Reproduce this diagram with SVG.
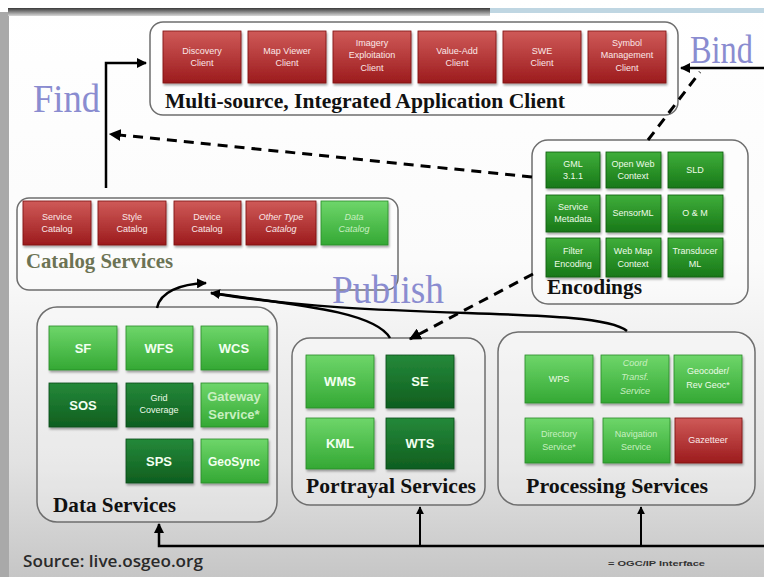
<svg xmlns="http://www.w3.org/2000/svg" width="764" height="577" viewBox="0 0 764 577">
<defs>
<linearGradient id="bg" x1="0" y1="0" x2="0" y2="1">
<stop offset="0" stop-color="#ffffff"/><stop offset="0.45" stop-color="#fbfbfb"/><stop offset="0.8" stop-color="#e2e2e2"/><stop offset="1" stop-color="#c6c6c6"/>
</linearGradient>
<linearGradient id="topbar" x1="0" y1="0" x2="0" y2="1">
<stop offset="0" stop-color="#3a3a3a"/><stop offset="1" stop-color="#d8d8d8"/>
</linearGradient>
<linearGradient id="red" x1="0" y1="0" x2="0" y2="1">
<stop offset="0" stop-color="#cf5a58"/><stop offset="1" stop-color="#9c1b1d"/>
</linearGradient>
<linearGradient id="lg" x1="0" y1="0" x2="0" y2="1">
<stop offset="0" stop-color="#6ed66a"/><stop offset="1" stop-color="#34a834"/>
</linearGradient>
<linearGradient id="mg" x1="0" y1="0" x2="0" y2="1">
<stop offset="0" stop-color="#3fae3a"/><stop offset="1" stop-color="#187818"/>
</linearGradient>
<linearGradient id="dg" x1="0" y1="0" x2="0" y2="1">
<stop offset="0" stop-color="#25893a"/><stop offset="1" stop-color="#0f5e1f"/>
</linearGradient>
<filter id="sh" x="-10%" y="-10%" width="130%" height="140%">
<feDropShadow dx="1" dy="2" stdDeviation="1.2" flood-color="#000" flood-opacity="0.35"/>
</filter>
<marker id="ah" viewBox="0 0 10 10" refX="9" refY="5" markerWidth="4" markerHeight="4" orient="auto-start-reverse">
<path d="M0,0 L10,5 L0,10 z" fill="#000"/>
</marker>
</defs>
<style>
.frame{fill:#ffffff;fill-opacity:0.25;stroke:#6e6e6e;stroke-width:1.5}
.r{fill:url(#red);stroke:#7a1010;stroke-width:0.8;filter:url(#sh)}
.l{fill:url(#lg);stroke:#2a8a2a;stroke-width:0.8;filter:url(#sh)}
.m{fill:url(#mg);stroke:#0f5a0f;stroke-width:0.8;filter:url(#sh)}
.d{fill:url(#dg);stroke:#0a4a14;stroke-width:0.8;filter:url(#sh)}
.t{font-family:"Liberation Sans",Arial,sans-serif;font-size:9px;fill:#fbe8e8;text-anchor:middle}
.tg{font-family:"Liberation Sans",Arial,sans-serif;font-size:9px;fill:#eefbe8;text-anchor:middle}
.tb{font-family:"Liberation Sans",Arial,sans-serif;font-size:13px;fill:#f2fff0;text-anchor:middle;font-weight:bold}
.faint{fill:#c8efc0}
.h{font-family:"Liberation Serif","Times New Roman",serif;font-weight:bold;font-size:21px;fill:#111}
.big{font-family:"Liberation Serif","Times New Roman",serif;font-size:40px;fill:#8a8cd0}
.c{fill:none;stroke:#000;stroke-width:2.5}
.dash{fill:none;stroke:#000;stroke-width:3;stroke-dasharray:10 7}
</style>

<!-- background -->
<rect x="0" y="0" width="764" height="577" fill="url(#bg)"/>
<rect x="0" y="12" width="9" height="565" fill="#a9a9a9"/>
<rect x="8" y="8" width="482" height="8" fill="url(#topbar)"/>
<rect x="490" y="8" width="274" height="5" fill="#bfd6e2"/>

<!-- Client -->
<g id="client">
<rect class="frame" x="150" y="22" width="528" height="93" rx="13"/>
<rect class="r" x="163" y="31" width="78" height="52"/>
<text class="t" x="202" y="54">Discovery</text><text class="t" x="202" y="66">Client</text>
<rect class="r" x="248" y="31" width="78" height="52"/>
<text class="t" x="287" y="54">Map Viewer</text><text class="t" x="287" y="66">Client</text>
<rect class="r" x="333" y="31" width="78" height="52"/>
<text class="t" x="372" y="46">Imagery</text><text class="t" x="372" y="58">Exploitation</text><text class="t" x="372" y="71">Client</text>
<rect class="r" x="418" y="31" width="78" height="52"/>
<text class="t" x="457" y="54">Value-Add</text><text class="t" x="457" y="66">Client</text>
<rect class="r" x="503" y="31" width="78" height="52"/>
<text class="t" x="542" y="54">SWE</text><text class="t" x="542" y="66">Client</text>
<rect class="r" x="588" y="31" width="78" height="52"/>
<text class="t" x="627" y="46">Symbol</text><text class="t" x="627" y="58">Management</text><text class="t" x="627" y="71">Client</text>
<text class="h" x="165" y="108" textLength="400" lengthAdjust="spacingAndGlyphs">Multi-source, Integrated Application Client</text>
</g>

<!-- Catalog -->
<g id="catalog">
<rect class="frame" x="17" y="198" width="381" height="92" rx="12"/>
<rect class="r" x="23" y="201" width="68" height="44"/>
<text class="t" x="57" y="220">Service</text><text class="t" x="57" y="232">Catalog</text>
<rect class="r" x="98" y="201" width="68" height="44"/>
<text class="t" x="132" y="220">Style</text><text class="t" x="132" y="232">Catalog</text>
<rect class="r" x="174" y="201" width="67" height="44"/>
<text class="t" x="207" y="220">Device</text><text class="t" x="207" y="232">Catalog</text>
<rect class="r" x="246" y="201" width="70" height="44"/>
<text class="t" x="281" y="220" font-style="italic">Other Type</text><text class="t" x="281" y="232" font-style="italic">Catalog</text>
<rect class="l" x="321" y="201" width="67" height="44"/>
<text class="tg faint" x="354" y="220" font-style="italic">Data</text><text class="tg faint" x="354" y="232" font-style="italic">Catalog</text>
<text class="h" x="26" y="268" style="fill:#6c7354;font-size:22px" textLength="147" lengthAdjust="spacingAndGlyphs">Catalog Services</text>
</g>

<!-- Encodings -->
<g id="encodings">
<rect class="frame" x="532" y="140" width="216" height="164" rx="16"/>
<rect class="m" x="546" y="152" width="54" height="36"/>
<text class="tg" x="573" y="167">GML</text><text class="tg" x="573" y="179">3.1.1</text>
<rect class="m" x="606" y="152" width="55" height="36"/>
<text class="tg" x="633" y="167">Open Web</text><text class="tg" x="633" y="179">Context</text>
<rect class="m" x="668" y="152" width="55" height="36"/>
<text class="tg" x="695" y="173">SLD</text>
<rect class="m" x="546" y="195" width="54" height="37"/>
<text class="tg" x="573" y="210">Service</text><text class="tg" x="573" y="222">Metadata</text>
<rect class="m" x="606" y="195" width="55" height="37"/>
<text class="tg" x="633" y="216">SensorML</text>
<rect class="m" x="668" y="195" width="55" height="37"/>
<text class="tg" x="695" y="216">O &amp; M</text>
<rect class="m" x="546" y="238" width="54" height="39"/>
<text class="tg" x="573" y="254">Filter</text><text class="tg" x="573" y="267">Encoding</text>
<rect class="m" x="606" y="238" width="55" height="39"/>
<text class="tg" x="633" y="254">Web Map</text><text class="tg" x="633" y="267">Context</text>
<rect class="m" x="668" y="238" width="55" height="39"/>
<text class="tg" x="695" y="254">Transducer</text><text class="tg" x="695" y="267">ML</text>
<text class="h" x="547" y="294" textLength="95" lengthAdjust="spacingAndGlyphs">Encodings</text>
</g>

<!-- Data Services -->
<g id="data">
<rect class="frame" x="37" y="307" width="240" height="215" rx="20"/>
<rect class="l" x="49" y="326" width="68" height="44"/><text class="tb" x="83" y="353">SF</text>
<rect class="l" x="126" y="326" width="67" height="44"/><text class="tb" x="159" y="353">WFS</text>
<rect class="l" x="201" y="326" width="67" height="44"/><text class="tb" x="234" y="353">WCS</text>
<rect class="d" x="49" y="383" width="68" height="44"/><text class="tb" x="83" y="410">SOS</text>
<rect class="d" x="126" y="383" width="67" height="44"/>
<text class="tg" x="159" y="401">Grid</text><text class="tg" x="159" y="413">Coverage</text>
<rect class="l" x="201" y="383" width="67" height="44"/>
<text class="tb faint" x="234" y="401">Gateway</text><text class="tb faint" x="234" y="419">Service*</text>
<rect class="d" x="126" y="439" width="67" height="44"/><text class="tb" x="159" y="466">SPS</text>
<rect class="l" x="201" y="439" width="67" height="44"/><text class="tb" x="234" y="466" style="font-size:12px">GeoSync</text>
<text class="h" x="53" y="512" textLength="123" lengthAdjust="spacingAndGlyphs">Data Services</text>
</g>

<!-- Portrayal Services -->
<g id="portrayal">
<rect class="frame" x="292" y="338" width="193" height="167" rx="18"/>
<rect class="l" x="306" y="355" width="68" height="53"/><text class="tb" x="340" y="386">WMS</text>
<rect class="d" x="386" y="355" width="68" height="53"/><text class="tb" x="420" y="386">SE</text>
<rect class="l" x="306" y="418" width="68" height="51"/><text class="tb" x="340" y="448">KML</text>
<rect class="d" x="386" y="418" width="68" height="51"/><text class="tb" x="420" y="448">WTS</text>
<text class="h" x="306" y="493" textLength="170" lengthAdjust="spacingAndGlyphs">Portrayal Services</text>
</g>

<!-- Processing Services -->
<g id="processing">
<rect class="frame" x="498" y="332" width="257" height="173" rx="20"/>
<rect class="l" x="525" y="355" width="68" height="48"/><text class="tg" x="559" y="382">WPS</text>
<rect class="l" x="601" y="355" width="68" height="48"/>
<text class="tg faint" x="635" y="366" font-style="italic">Coord</text><text class="tg faint" x="635" y="380" font-style="italic">Transf.</text><text class="tg faint" x="635" y="394" font-style="italic">Service</text>
<rect class="l" x="674" y="355" width="68" height="48"/>
<text class="tg" x="708" y="374">Geocoder/</text><text class="tg" x="708" y="388">Rev Geoc*</text>
<rect class="l" x="525" y="418" width="68" height="45"/>
<text class="tg faint" x="559" y="437">Directory</text><text class="tg faint" x="559" y="450">Service*</text>
<rect class="l" x="603" y="418" width="67" height="45"/>
<text class="tg faint" x="636" y="437">Navigation</text><text class="tg faint" x="636" y="450">Service</text>
<rect class="r" x="675" y="418" width="67" height="45"/>
<text class="t" x="708" y="443">Gazetteer</text>
<text class="h" x="526" y="493" textLength="182" lengthAdjust="spacingAndGlyphs">Processing Services</text>
</g>

<!-- Labels -->
<g id="labels">
<text class="big" x="33" y="112" textLength="67" lengthAdjust="spacingAndGlyphs">Find</text>
<text class="big" transform="translate(690,63) scale(0.9,1.1)" x="0" y="0" style="font-size:36px">Bind</text>
<text class="big" x="332" y="303" textLength="112" lengthAdjust="spacingAndGlyphs">Publish</text>
<text x="23" y="567" font-family="'Open Sans','Liberation Sans',sans-serif" font-size="17" font-weight="600" fill="#2a2a2a" textLength="180" lengthAdjust="spacingAndGlyphs">Source: live.osgeo.org</text>
<text x="608" y="566" font-family="'Liberation Sans',Arial,sans-serif" font-size="8" font-weight="bold" fill="#333" textLength="97" lengthAdjust="spacingAndGlyphs">= OGC/IP Interface</text>
</g>

<!-- Connectors -->
<g id="connectors">
<path class="c" d="M106,188 L106,63 L146,63" marker-end="url(#ah)"/>
<path class="c" d="M764,68 L681,68" marker-end="url(#ah)"/>
<path class="dash" d="M532,177 L110,134" marker-end="url(#ah)"/>
<path class="dash" d="M648,140 L700,72"/>
<path class="dash" d="M533,274 L410,339" marker-end="url(#ah)"/>
<path class="c" d="M157,308 C160,292 180,284 206,283" marker-end="url(#ah)"/>
<path class="c" d="M390,338 C375,312 300,305 211,293" marker-end="url(#ah)"/>
<path class="c" d="M627,331 C595,305 380,322 211,293"/>
<path class="c" d="M764,546 L159,546 L159,524" marker-end="url(#ah)"/>
<path class="c" d="M420,546 L420,507" marker-end="url(#ah)" style="stroke-width:2"/>
<path class="c" d="M641,546 L641,507" marker-end="url(#ah)" style="stroke-width:2"/>
</g>
</svg>
